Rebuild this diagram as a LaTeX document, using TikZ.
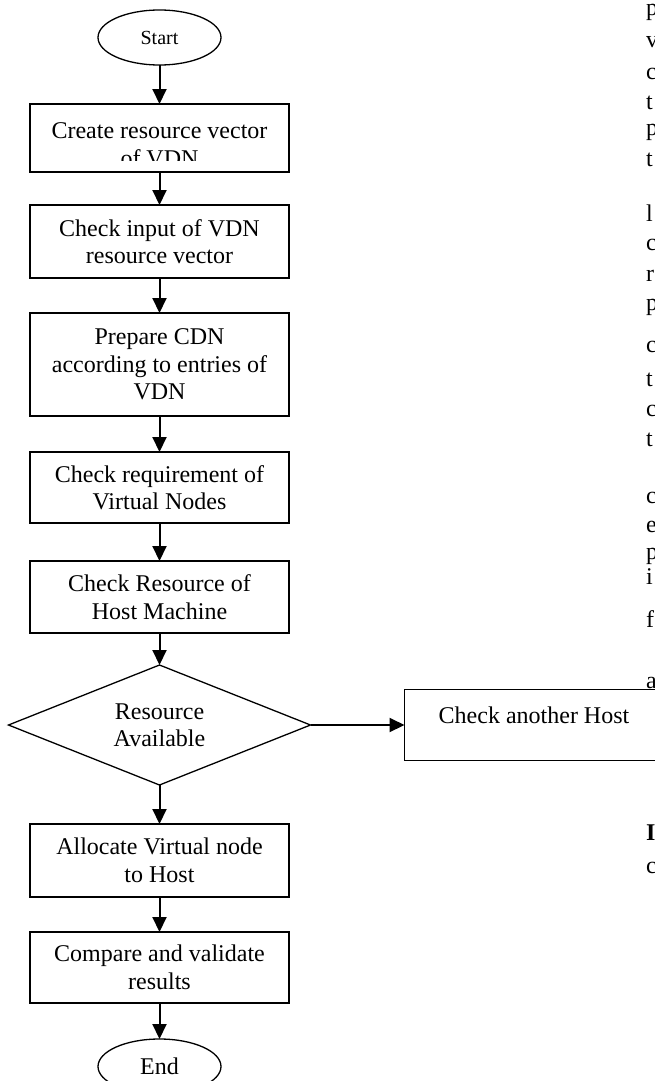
\documentclass[tikz,border=0pt]{standalone}
\usepackage{fontspec}
\setmainfont{Liberation Serif}
\usetikzlibrary{arrows.meta,positioning,shapes.geometric}
\tikzset{>={Triangle[length=15pt,width=14pt]},node distance=35pt}

\begin{document}
\begin{tikzpicture}[x=1pt,y=1pt,font=\fontsize{24}{27.5}\selectfont]
                \tikzstyle{every node}=[inner sep=0pt,outer sep=0pt]
                \tikzstyle{term}=[draw,ellipse,line width=1.3pt,minimum width=123pt,minimum height=55pt]
                \tikzstyle{proc}=[draw,rectangle,line width=1.3pt,minimum width=259pt,align=center]
                \tikzstyle{test}=[draw,diamond,aspect=2.5,line width=1.3pt,minimum width=302pt,minimum height=120pt,align=center]
                \tikzstyle{flow}=[->,line width=2pt]
                \useasboundingbox (0,0) rectangle (655,-1081);
                \node[term,font=\fontsize{20}{24}\selectfont] (start) at (159.5,-37.5) {Start};
                \node[proc,minimum height=68pt] (vec)    [below=39pt of start] {};
                \node[proc,minimum height=73pt] (input)  [below=33pt of vec]   {Check input of VDN\\resource vector};
                \node[proc,minimum height=103pt] (cdn)   [below=35pt of input] {Prepare CDN\\according to entries of\\VDN};
                \node[proc,minimum height=71pt] (req)    [below=36pt of cdn]   {Check requirement of\\Virtual Nodes};
                \node[proc,minimum height=72pt] (host)   [below=38pt of req]   {Check Resource of\\Host Machine};
                \node[test] (avail)                      [below=32pt of host]  {Resource\\Available};
                \node[proc,minimum height=71pt,text depth=19.5pt] (other) [right=94pt of avail] {Check another Host};
                \node[proc,minimum height=73pt] (alloc)  [below=39pt of avail] {Allocate Virtual node\\to Host};
                \node[proc,minimum height=71pt] (cmp)    [below=35pt of alloc] {Compare and validate\\results};
                \node[term] (end)                        [below=36pt of cmp]   {End};
                % text of the first box runs out of it
                \begin{scope}
                    \clip (vec.north west) rectangle ([yshift=12pt]vec.south east);
                    \node[align=center,anchor=north] (vectxt) at ([yshift=-19pt]vec.north) {Create resource vector\\of VDN};
                \end{scope}
                \path[flow]
                    (start) edge (vec)
                    (vec)   edge (input)
                    (input) edge (cdn)
                    (cdn)   edge (req)
                    (req)   edge (host)
                    (host)  edge (avail)
                    (avail) edge (other)
                    (avail) edge (alloc)
                    (alloc) edge (cmp)
                    (cmp)   edge (end);
                % next column, cut off
                \foreach \ch/\yy in {p/16,v/48,c/79,t/109,p/135,t/166,l/221,c/250,r/281,p/310,c/352,t/386,c/416,t/446,c/503,e/532,p/559,i/584,f/627,a/688,{\textbf{I}}/840,c/873}
                    \node[anchor=base west] (col\yy) at (646,-\yy) {\ch};
            \end{tikzpicture}
\end{document}
